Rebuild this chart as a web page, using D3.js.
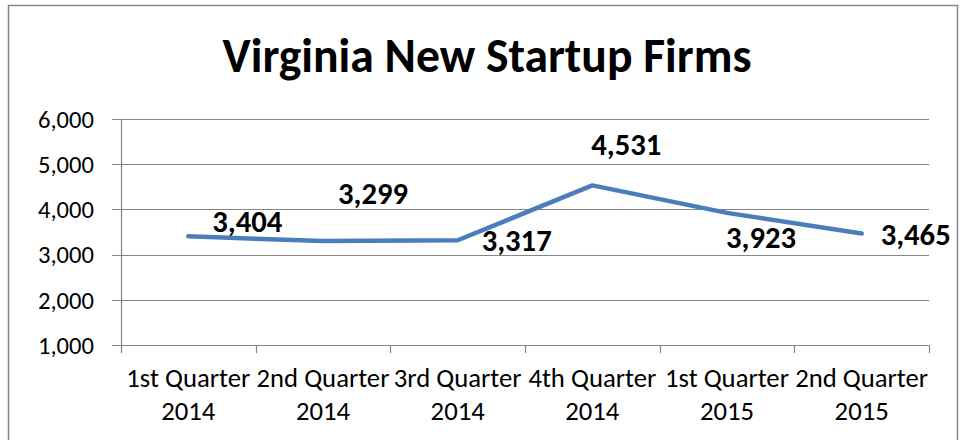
<!DOCTYPE html>
<html>
<head>
<meta charset="utf-8">
<script src="https://cdn.jsdelivr.net/npm/d3@7"></script>
<style>
  body { margin: 0; background: #fff; }
  text { font-family: Calibri, Carlito, Lato, "Open Sans", sans-serif; fill: #000; }
</style>
</head>
<body>
<svg id="chart" width="965" height="440"></svg>
<script>
"use strict"
var quarters = ["1st Quarter", "2nd Quarter", "3rd Quarter", "4th Quarter", "1st Quarter", "2nd Quarter"];
var years = ["2014", "2014", "2014", "2014", "2015", "2015"];
var firms = [3404, 3299, 3317, 4531, 3923, 3465];
var yTicks = [1000, 2000, 3000, 4000, 5000, 6000];

// where Excel put each data label, relative to its point
var labelShift = [[59, -15], [50, -48], [59, 0], [34, -41], [34, 24], [54, 0]];

var svg = d3.select("svg#chart"),
    width = +svg.attr("width"),
    height = +svg.attr("height");

var pLeft = 121, pRight = 929, pTop = 119, pBottom = 345;

// scale a text selection so its first node is w pixels wide (no Calibri here)
function fitWidth(sel, w) {
  var n = sel.node();
  var base = parseFloat(sel.style("font-size"));
  var len = n.getComputedTextLength();
  if (len > 0) sel.style("font-size", (base * w / len).toFixed(2) + "px");
}

svg.append("rect")
    .attr("x", 8.5).attr("y", 5.5)
    .attr("width", 949).attr("height", 450)
    .attr("fill", "#fff")
    .attr("stroke", "#868686")
    .attr("stroke-width", 1.5);

var title = svg.append("text")
    .attr("x", 487).attr("y", 72)
    .attr("text-anchor", "middle")
    .style("font-size", "40px")
    .style("font-weight", "bold")
    .text("Virginia New Startup Firms");
fitWidth(title, 529);

var x = d3.scaleBand()
    .domain(d3.range(firms.length))
    .range([pLeft, pRight]);

var y = d3.scaleLinear()
    .domain([1000, 6000])
    .range([pBottom, pTop]);

// gridlines
svg.append("g")
    .selectAll("line")
    .data(yTicks)
  .enter().append("line")
    .attr("x1", pLeft - 9).attr("x2", pRight)
    .attr("y1", function(d) { return Math.round(y(d)) + 0.5; })
    .attr("y2", function(d) { return Math.round(y(d)) + 0.5; })
    .attr("stroke", "#868686")
    .attr("stroke-width", 1.2);

var yLabels = svg.append("g")
    .selectAll("text")
    .data(yTicks)
  .enter().append("text")
    .attr("x", pLeft - 27)
    .attr("y", function(d) { return y(d); })
    .attr("dy", "0.36em")
    .attr("text-anchor", "end")
    .style("font-size", "20px")
    .text(d3.format(","));
fitWidth(yLabels, 56);
yLabels.style("font-size", yLabels.style("font-size"));

// y axis line
svg.append("line")
    .attr("x1", pLeft + 0.5).attr("x2", pLeft + 0.5)
    .attr("y1", pTop).attr("y2", pBottom)
    .attr("stroke", "#868686").attr("stroke-width", 1.2);

// x axis ticks sit on band edges
var edges = d3.range(firms.length + 1).map(function(i) {
  return i < firms.length ? x(i) : x(i - 1) + x.bandwidth();
});
svg.append("g")
    .selectAll("line")
    .data(edges)
  .enter().append("line")
    .attr("x1", function(d) { return Math.round(d) + 0.5; })
    .attr("x2", function(d) { return Math.round(d) + 0.5; })
    .attr("y1", pBottom).attr("y2", pBottom + 8)
    .attr("stroke", "#868686").attr("stroke-width", 1.2);

var cats = svg.append("g")
    .selectAll("text")
    .data(quarters)
  .enter().append("text")
    .attr("x", function(d, i) { return x(i) + x.bandwidth() / 2; })
    .attr("y", 387)
    .attr("text-anchor", "middle")
    .style("font-size", "20px")
    .text(function(d) { return d; });
fitWidth(cats, 124);
cats.style("font-size", cats.style("font-size"));

svg.append("g")
    .selectAll("text")
    .data(years)
  .enter().append("text")
    .attr("x", function(d, i) { return x(i) + x.bandwidth() / 2; })
    .attr("y", 420)
    .attr("text-anchor", "middle")
    .style("font-size", cats.style("font-size"))
    .text(function(d) { return d; });

var line = d3.line()
    .x(function(d, i) { return x(i) + x.bandwidth() / 2; })
    .y(function(d) { return y(d); });

svg.append("path")
    .datum(firms)
    .attr("d", line)
    .attr("fill", "none")
    .attr("stroke", "#4A7EBB")
    .attr("stroke-width", 4.5)
    .attr("stroke-linejoin", "round")
    .attr("stroke-linecap", "round");

var vals = svg.append("g")
    .selectAll("text")
    .data(firms)
  .enter().append("text")
    .attr("x", function(d, i) { return x(i) + x.bandwidth() / 2 + labelShift[i][0]; })
    .attr("y", function(d, i) { return y(d) + labelShift[i][1]; })
    .attr("dy", "0.36em")
    .attr("text-anchor", "middle")
    .style("font-size", "24px")
    .style("font-weight", "bold")
    .text(d3.format(","));
fitWidth(vals, 70);
vals.style("font-size", vals.style("font-size"));
</script>
</body>
</html>
